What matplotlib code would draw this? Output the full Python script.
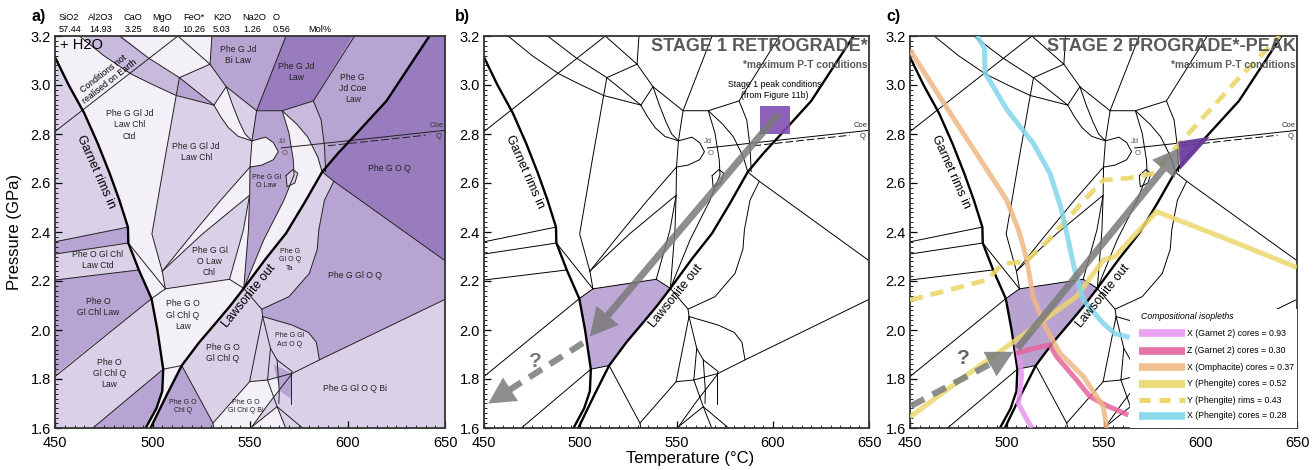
import numpy as np
import matplotlib
matplotlib.use("Agg")
import matplotlib.pyplot as plt
from matplotlib.patches import Polygon, Rectangle, FancyArrowPatch
from matplotlib.ticker import MultipleLocator

plt.rcParams['font.family'] = ['Liberation Sans', 'DejaVu Sans']

# ---------------- axis data ----------------
T_LIM = [450, 650]
P_LIM = [1.6, 3.2]
T_TICKS = [450, 500, 550, 600, 650]
P_TICKS = [1.6, 1.8, 2.0, 2.2, 2.4, 2.6, 2.8, 3.0, 3.2]

oxides = ["SiO2", "Al2O3", "CaO", "MgO", "FeO*", "K2O", "Na2O", "O"]
oxide_mol = ["57.44", "14.93", "3.25", "8.40", "10.26", "5.03", "1.26", "0.56"]
oxide_x_px = [59, 88, 123, 152, 183, 213, 242, 273]
value_x_px = [59, 89, 125, 153, 182, 213, 243, 273]

# ---------------- thick reaction lines (T degC, P GPa) ----------------
garnet_rims_in = [(449.6, 3.12), (457, 3.0), (465, 2.885), (472, 2.76), (478, 2.64), (483, 2.53),
                  (487.4, 2.42), (487.6, 2.355), (493, 2.245), (499.5, 2.128), (502.5, 2.0),
                  (505.5, 1.84), (505, 1.75), (502, 1.68), (496.5, 1.6)]
lawsonite_out = [(499, 1.6), (507, 1.73), (515, 1.855), (524, 1.95), (532.6, 2.03), (540, 2.1),
                 (546.8, 2.17), (558, 2.29), (568.5, 2.395), (578, 2.52), (587, 2.645), (595, 2.72),
                 (604.4, 2.80), (620, 2.935), (642, 3.2)]

# ---------------- thin phase boundaries ----------------
geotherm = [(450, 2.81), (513, 3.2)]
bnd_B = [(462.5, 3.2), (475, 3.12), (489, 3.045), (500.5, 3.0), (512.2, 2.957), (531.5, 2.918)]
bnd_C = [(483, 3.2), (498, 3.11), (513.8, 3.03)]
bnd_top1 = [(513, 3.2), (529.5, 3.085)]
bnd_top2 = [(530.5, 3.2), (529.5, 3.085)]
bnd_c1 = [(513.8, 3.03), (529.5, 3.085)]
bnd_c2 = [(513.8, 3.03), (531.5, 2.918)]
bnd_k = [(529.5, 3.085), (537.8, 2.993), (553.4, 2.895)]
lens_left = [(531.5, 2.918), (535, 2.87), (539, 2.825), (544, 2.79), (551, 2.772)]
lens_right = [(537.8, 2.993), (541, 2.92), (544.5, 2.85), (547.5, 2.80), (551, 2.772)]
bnd_lens_top = [(537.8, 2.993), (531.5, 2.918)]
bnd_bilaw = [(568.5, 3.2), (553.4, 2.895)]
bnd_k123 = [(553.4, 2.895), (566.5, 2.895), (582.5, 2.935), (603.6, 3.2)]
bnd_V = [(553.4, 2.895), (551, 2.772), (550, 2.665), (549.8, 2.55), (549.2, 2.408), (546.8, 2.17)]
jd_o_lens = [(551, 2.772), (558, 2.787), (562, 2.765), (564.5, 2.728), (562, 2.695), (556, 2.673), (550, 2.665)]
bnd_D = [(513.8, 3.03), (506.6, 2.71), (499.7, 2.392), (505, 2.24)]
bnd_s1 = [(505, 2.24), (520.5, 2.392), (535, 2.53), (550, 2.665)]
bnd_s2 = [(505, 2.24), (525.6, 2.392), (549.8, 2.55)]
bnd_e = [(549.8, 2.55), (546.6, 2.408), (539.5, 2.207)]
bnd_g7 = [(487.6, 2.355), (506.6, 2.168)]
bnd_g9 = [(499.5, 2.128), (506.6, 2.168)]
bnd_E = [(505, 2.24), (506.6, 2.168), (539.5, 2.207), (546.8, 2.17)]
bnd_L1 = [(450, 2.36), (487.4, 2.42)]
bnd_L2 = [(450, 2.31), (487.6, 2.355)]
bnd_L3 = [(450, 2.204), (493, 2.245)]
bnd_L4 = [(450, 1.81), (499.5, 2.128)]
bnd_L5 = [(469.4, 1.6), (505.5, 1.84), (515, 1.855), (531, 1.62), (531.5, 1.6)]
bnd_a = [(566.5, 2.895), (570, 2.803), (572.2, 2.694), (572.6, 2.633), (567.4, 2.53), (557, 2.367), (546.8, 2.17)]
bnd_bump = [(568.5, 2.63), (572, 2.655), (574.5, 2.64), (573, 2.60), (569, 2.585), (568.5, 2.63)]
bnd_b = [(566.5, 2.895), (574, 2.84), (579.5, 2.789), (584.7, 2.707), (587, 2.645)]
bnd_c = [(582.5, 2.935), (586.5, 2.857), (588.2, 2.748), (588.8, 2.646)]
bnd_r = [(587, 2.645), (593, 2.607), (650, 2.283)]
bnd_Q1 = [(593, 2.607), (588.2, 2.53), (585.3, 2.41), (584.5, 2.33), (580.4, 2.231), (570, 2.136), (556, 2.085)]
bnd_j1 = [(546.8, 2.17), (556, 2.085), (556.5, 2.055)]
bnd_act = [(556.5, 2.055), (571.7, 2.02), (580, 1.99), (584, 1.95), (585.6, 1.878)]
bnd_BL = [(650, 2.125), (585.6, 1.878), (571.7, 1.823), (559.6, 1.70), (551, 1.605), (550.5, 1.6)]
bnd_j2 = [(556.5, 2.055), (549.8, 1.789), (531, 1.62)]
bnd_j3 = [(556.5, 2.055), (560.5, 1.925), (559, 1.796)]
bnd_j23 = [(549.8, 1.789), (559, 1.796), (571.7, 1.823)]
bnd_x1 = [(551, 1.605), (563.9, 1.687), (577, 1.6)]
bnd_x2 = [(559, 1.796), (563.9, 1.687), (568.3, 1.6)]
bnd_x3 = [(560.5, 1.925), (563.9, 1.878), (571.7, 1.83)]
bnd_x4 = [(563.9, 1.878), (565, 1.75), (564.8, 1.70)]
bnd_x5 = [(570.9, 1.83), (570.9, 1.70)]
coe_q = [(566, 2.743), (650, 2.815)]
coe_q_dash = [(590, 2.752), (640, 2.795)]

thin_lines = [geotherm, bnd_B, bnd_C, bnd_top1, bnd_top2, bnd_c1, bnd_c2, bnd_k, lens_left,
              lens_right, bnd_lens_top, bnd_bilaw, bnd_k123, bnd_V, jd_o_lens, bnd_D, bnd_s1,
              bnd_s2, bnd_e, bnd_g7, bnd_g9, bnd_E, bnd_L1, bnd_L2, bnd_L3, bnd_L4, bnd_L5,
              bnd_a, bnd_bump, bnd_b, bnd_c, bnd_r, bnd_Q1, bnd_j1, bnd_act, bnd_BL, bnd_j2,
              bnd_j3, bnd_j23, bnd_x1, bnd_x2, bnd_x3, bnd_x4, bnd_x5, coe_q]

# ---------------- panel a field fills ----------------
C0, C1, C2, C3, C4 = '#f3f0f7', '#dad0e8', '#c8badd', '#b7a4d2', '#987cbe'
fields_a = [
    (C1, [(449, 2.36), (487.4, 2.42), (483, 2.53), (478, 2.64), (472, 2.76), (465, 2.885), (457, 3.0), (449.6, 3.12), (449, 3.12)]),
    (C3, [(449, 2.31), (487.6, 2.355), (487.4, 2.42), (449, 2.36)]),
    (C1, [(449, 2.204), (493, 2.245), (487.6, 2.355), (449, 2.31)]),
    (C3, [(449, 1.81), (499.5, 2.128), (493, 2.245), (449, 2.204)]),
    (C1, [(449, 1.6), (469.4, 1.6), (505.5, 1.84), (502.5, 2.0), (499.5, 2.128), (449, 1.81)]),
    (C3, [(469.4, 1.6), (505.5, 1.84), (505, 1.75), (502, 1.68), (496.5, 1.6)]),
    (C0, [(496.5, 1.6), (499, 1.6), (507, 1.73), (515, 1.855), (505.5, 1.84), (505, 1.75), (502, 1.68)]),
    (C0, [(499.5, 2.128), (506.6, 2.168), (539.5, 2.207), (546.8, 2.17), (540, 2.1), (532.6, 2.03), (524, 1.95), (515, 1.855), (505.5, 1.84), (502.5, 2.0)]),
    (C0, [(487.6, 2.355), (493, 2.245), (499.5, 2.128), (506.6, 2.168)]),
    (C0, [(449, 3.12), (449, 3.21), (462.5, 3.21), (475, 3.12), (489, 3.045), (500.5, 3.0), (512.2, 2.957), (499.7, 2.392), (505, 2.24), (506.6, 2.168), (487.6, 2.355), (487.4, 2.42), (483, 2.53), (478, 2.64), (472, 2.76), (465, 2.885), (457, 3.0), (449.6, 3.12)]),
    (C2, [(462.5, 3.21), (483, 3.21), (498, 3.11), (513.8, 3.03), (512.2, 2.957), (500.5, 3.0), (489, 3.045), (475, 3.12)]),
    (C3, [(513.8, 3.03), (531.5, 2.918), (512.2, 2.957)]),
    (C0, [(483, 3.21), (513, 3.21), (529.5, 3.085), (513.8, 3.03), (498, 3.11)]),
    (C0, [(513, 3.21), (530.5, 3.21), (529.5, 3.085)]),
    (C1, [(513.8, 3.03), (529.5, 3.085), (537.8, 2.993), (531.5, 2.918)]),
    (C0, lens_left + lens_right[::-1]),
    (C1, [(537.8, 2.993), (553.4, 2.895), (551, 2.772), (547.5, 2.80), (544.5, 2.85), (541, 2.92)]),
    (C3, [(530.5, 3.21), (568.5, 3.21), (553.4, 2.895), (537.8, 2.993), (529.5, 3.085)]),
    (C4, [(568.5, 3.21), (603.6, 3.21), (582.5, 2.935), (566.5, 2.895), (553.4, 2.895)]),
    (C1, [(512.2, 2.957), (531.5, 2.918)] + lens_left[1:] + [(550, 2.665), (535, 2.53), (520.5, 2.392), (505, 2.24), (499.7, 2.392)]),
    (C0, [(505, 2.24), (520.5, 2.392), (535, 2.53), (550, 2.665), (549.8, 2.55), (525.6, 2.392)]),
    (C1, [(505, 2.24), (525.6, 2.392), (549.8, 2.55), (546.6, 2.408), (539.5, 2.207), (506.6, 2.168)]),
    (C0, [(549.8, 2.55), (546.6, 2.408), (539.5, 2.207), (546.8, 2.17), (549.2, 2.408)]),
    (C3, [(553.4, 2.895), (566.5, 2.895), (570, 2.803), (572.2, 2.694), (572.6, 2.633), (567.4, 2.53), (557, 2.367), (546.8, 2.17), (549.2, 2.408), (549.8, 2.55), (550, 2.665), (551, 2.772)]),
    (C0, jd_o_lens),
    (C0, [(566.5, 2.895), (574, 2.84), (579.5, 2.789), (584.7, 2.707), (587, 2.645), (578, 2.52), (568.5, 2.395), (558, 2.29), (546.8, 2.17), (557, 2.367), (567.4, 2.53), (572.6, 2.633), (572.2, 2.694), (570, 2.803)]),
    (C1, bnd_bump),
    (C2, [(566.5, 2.895), (582.5, 2.935), (586.5, 2.857), (588.2, 2.748), (588.8, 2.646), (587, 2.645), (584.7, 2.707), (579.5, 2.789), (574, 2.84)]),
    (C3, [(582.5, 2.935), (603.6, 3.21), (643, 3.21), (620, 2.935), (604.4, 2.80), (595, 2.72), (587, 2.645), (588.8, 2.646), (588.2, 2.748), (586.5, 2.857)]),
    (C4, [(587, 2.645), (595, 2.72), (604.4, 2.80), (620, 2.935), (642, 3.2), (642.8, 3.21), (651, 3.21), (651, 2.283), (650, 2.283), (593, 2.607)]),
    (C1, [(546.8, 2.17), (558, 2.29), (568.5, 2.395), (578, 2.52), (587, 2.645), (593, 2.607), (588.2, 2.53), (585.3, 2.41), (584.5, 2.33), (580.4, 2.231), (570, 2.136), (556, 2.085)]),
    (C3, [(593, 2.607), (650, 2.283), (651, 2.283), (651, 2.125), (650, 2.125), (585.6, 1.878), (584, 1.95), (580, 1.99), (571.7, 2.02), (556.5, 2.055), (556, 2.085), (570, 2.136), (580.4, 2.231), (584.5, 2.33), (585.3, 2.41), (588.2, 2.53)]),
    (C1, [(556.5, 2.055), (571.7, 2.02), (580, 1.99), (584, 1.95), (585.6, 1.878), (571.7, 1.823), (559, 1.796)]),
    (C1, [(515, 1.855), (524, 1.95), (532.6, 2.03), (540, 2.1), (546.8, 2.17), (556, 2.085), (556.5, 2.055), (549.8, 1.789), (531, 1.62)]),
    (C3, [(515, 1.855), (531, 1.62), (531.5, 1.59), (499, 1.59), (507, 1.73)]),
    (C0, [(549.8, 1.789), (559, 1.796), (571.7, 1.823), (559.6, 1.70), (551, 1.605), (550.5, 1.59), (531.5, 1.59), (531, 1.62)]),
    (C1, [(651, 2.125), (585.6, 1.878), (571.7, 1.823), (559.6, 1.70), (551, 1.605), (550.5, 1.59), (651, 1.59)]),
    (C3, [(562, 1.86), (571.7, 1.823), (570.9, 1.72), (565.5, 1.75)]),
    (C0, [(551, 1.605), (563.9, 1.687), (568.3, 1.59), (550.5, 1.59)]),
]

field_labels = [
    ("Phe G Jd\nBi Law", 543.8, 3.122, 6.2), ("Phe G Jd\nLaw", 573.7, 3.054, 6.2),
    ("Phe G\nJd Coe\nLaw", 602.7, 2.986, 6.2), ("Phe G Gl Jd\nLaw Chl\nCtd", 488.2, 2.837, 6.2),
    ("Phe G Gl Jd\nLaw Chl", 522.4, 2.728, 6.2), ("Phe G Gl\nO Law", 558.3, 2.606, 5.0),
    ("Phe G O Q", 621.5, 2.66, 6.2), ("Phe O Gl Chl\nLaw Ctd", 472.0, 2.286, 6.2),
    ("Phe G Gl\nO Law\nChl", 529.2, 2.279, 6.2), ("Phe G\nGl O Q\nTa", 570.3, 2.286, 5.0),
    ("Phe G Gl O Q", 603.6, 2.224, 6.2), ("Phe O\nGl Chl Law", 472.0, 2.095, 6.2),
    ("Phe G O\nGl Chl Q\nLaw", 515.6, 2.061, 6.2), ("Phe G Gl\nAct O Q", 570.3, 1.959, 5.0),
    ("Phe G O\nGl Chl Q", 536.1, 1.905, 6.2), ("Phe O\nGl Chl Q\nLaw", 478.0, 1.823, 6.2),
    ("Phe G Gl O Q Bi", 603.6, 1.762, 6.2), ("Phe G O\nChl Q", 515.6, 1.687, 5.0),
    ("Phe G O\nGl Chl Q Bi", 548.0, 1.687, 5.0),
]

# ---------------- panel b/c overlays ----------------
stage_field = [(499.5, 2.128), (506.6, 2.168), (539.5, 2.207), (546.8, 2.17), (540, 2.1), (532.6, 2.03),
               (524, 1.95), (515, 1.855), (505.5, 1.84), (502.5, 2.0)]
stage1_peak_T = [593.5, 609.0]
stage1_peak_P = [2.80, 2.915]
stage2_peak = [(588.7, 2.769), (605, 2.789), (589.5, 2.653)]
arrow_b_solid = [(603.0, 2.882), (504.9, 1.973)]
arrow_b_dash = [(501.4, 1.947), (452.2, 1.70)]
arrow_c_dash = [(450.5, 1.69), (503.4, 1.911)]
arrow_c_solid = [(505.5, 1.925), (590.0, 2.745)]

# ---------------- isopleths (panel c) ----------------
iso_grt_x = [(505, 1.95), (506, 1.90), (507.7, 1.82), (507, 1.76), (506, 1.70), (510, 1.64), (513, 1.6)]
iso_grt_z = [(505.1, 1.905), (514, 1.925), (522.3, 1.939), (525.8, 1.891), (536.1, 1.796), (543, 1.728), (552, 1.69), (562.8, 1.653)]
iso_omp_x = [(450, 3.143), (472, 2.87), (500, 2.53), (506, 2.41), (510, 2.30), (513.7, 2.136), (519, 2.027), (527.5, 1.905), (539.6, 1.81), (549.9, 1.687), (551.7, 1.6)]
iso_phe_y_core = [(450, 1.645), (480, 1.82), (505, 1.96), (536, 2.136), (550, 2.286), (556, 2.30), (564, 2.37), (577.5, 2.483), (615, 2.367), (650, 2.255)]
iso_phe_y_rim = [(450, 2.122), (489.6, 2.204), (498, 2.27), (510, 2.28), (522, 2.37), (540, 2.53), (550, 2.612), (563, 2.62), (576, 2.64), (591, 2.776), (619, 3.02), (641, 3.2)]
iso_phe_x = [(484.5, 3.2), (488.5, 3.15), (488.8, 3.05), (500, 2.90), (513.7, 2.762), (522.3, 2.64), (528, 2.50), (531, 2.395), (535, 2.25), (539.6, 2.122), (549.9, 2.027), (556, 1.985), (563.5, 1.97)]

iso_labels = ["X (Garnet 2) cores = 0.93", "Z (Garnet 2) cores = 0.30", "X (Omphacite) cores = 0.37",
              "Y (Phengite) cores = 0.52", "Y (Phengite) rims = 0.43", "X (Phengite) cores = 0.28"]
iso_colors = ['#e696ef', '#e4649c', '#efb886', '#ecd76c', '#ecd76c', '#82d5ea']
iso_series = [iso_grt_x, iso_grt_z, iso_omp_x, iso_phe_y_core, iso_phe_y_rim, iso_phe_x]
iso_dashed = [False, False, False, False, True, False]
legend_rows_P = [1.9865, 1.9155, 1.848, 1.78, 1.714, 1.650]

# ---------------- figure ----------------
W, H = 1314, 470
fig = plt.figure(figsize=(W / 100, H / 100), dpi=100)
axes_px = [(55, 390), (484, 385), (910, 387)]
axs = [fig.add_axes([x / W, 42 / H, w / W, 392 / H]) for x, w in axes_px]


def xy(pts):
    a = np.array(pts, dtype=float)
    return a[:, 0], a[:, 1]


def setup(ax):
    ax.set_xlim(T_LIM)
    ax.set_ylim(P_LIM)
    ax.set_xticks(T_TICKS)
    ax.set_yticks(P_TICKS)
    ax.set_yticklabels([f"{p:.1f}" for p in P_TICKS])
    ax.xaxis.set_minor_locator(MultipleLocator(5))
    ax.yaxis.set_minor_locator(MultipleLocator(0.02))
    ax.tick_params(which='both', direction='in', top=False, right=False, labelsize=10.5)
    ax.tick_params(axis='y', which='major', pad=3)
    ax.tick_params(axis='x', which='major', pad=6)
    ax.tick_params(which='major', length=5, width=0.9)
    ax.tick_params(which='minor', length=2.5, width=0.6)
    for s in ax.spines.values():
        s.set_linewidth(1.3)
        s.set_color('#333333')


def draw_network(ax, color='black'):
    for ln in thin_lines:
        x, y = xy(ln)
        ax.plot(x, y, color=color, lw=0.7, zorder=2, solid_capstyle='round')
    x, y = xy(coe_q_dash)
    ax.plot(x, y, color=color, lw=0.7, ls=(0, (8, 3)), zorder=2)
    for ln in (garnet_rims_in, lawsonite_out):
        x, y = xy(ln)
        ax.plot(x, y, color='black', lw=1.7, zorder=2.5)
    ax.text(471.0, 2.645, "Garnet rims in", rotation=-66, ha='center', va='center', fontsize=9,
            rotation_mode='anchor', zorder=4)
    ax.text(549.5, 2.14, "Lawsonite out", rotation=51, ha='center', va='center', fontsize=9,
            rotation_mode='anchor', zorder=4)
    ax.text(566.5, 2.768, "Jd", fontsize=5.5, color='#555555', ha='center', va='center', zorder=4)
    ax.text(567.5, 2.72, "O", fontsize=5.5, color='#555555', ha='center', va='center', zorder=4)
    ax.text(645.5, 2.835, "Coe", fontsize=5.5, color='#333333', ha='center', va='center', zorder=4)
    ax.text(646.5, 2.79, "Q", fontsize=5.5, color='#333333', ha='center', va='center', zorder=4)


def head_base(ax, start, tip, length_px):
    d = ax.transData
    s = np.array(d.transform(start))
    t = np.array(d.transform(tip))
    v = (t - s) / np.hypot(*(t - s))
    return tuple(d.inverted().transform(t - v * length_px))


def solid_arrow(ax, start, tip):
    ar = FancyArrowPatch(start, tip, arrowstyle='simple,head_length=2.0,head_width=2.1,tail_width=0.5',
                         mutation_scale=10, color='#7a7a7a', alpha=0.85, lw=0, zorder=6,
                         shrinkA=0, shrinkB=0)
    ax.add_patch(ar)


def dashed_arrow(ax, start, tip):
    base = head_base(ax, start, tip, 26)
    ax.plot([start[0], base[0]], [start[1], base[1]], color='#7a7a7a', alpha=0.85, lw=4.5,
            dashes=(2.4, 1.5), solid_capstyle='butt', zorder=6)
    ar = FancyArrowPatch(head_base(ax, start, tip, 27), tip,
                         arrowstyle='simple,head_length=1.9,head_width=2.0,tail_width=0.3',
                         mutation_scale=10, color='#7a7a7a', alpha=0.85, lw=0, zorder=6,
                         shrinkA=0, shrinkB=0)
    ax.add_patch(ar)


for ax in axs:
    setup(ax)

# ---------- panel a ----------
ax = axs[0]
ax.set_facecolor(C1)
for col, pts in fields_a:
    ax.add_patch(Polygon(pts, closed=True, facecolor=col, edgecolor='none', zorder=1))
draw_network(ax, color='#222222')
for txt, t, p, fs in field_labels:
    ax.text(t, p, txt, ha='center', va='center', fontsize=fs, linespacing=1.3, color='#222222', zorder=4)
ax.text(452.5, 3.165, "+ H2O", fontsize=10.5, ha='left', va='center', zorder=4)
ax.text(476.5, 3.03, "Conditions not\nrealised on Earth", rotation=38, ha='center', va='center',
        fontsize=6.3, linespacing=1.25, rotation_mode='anchor', zorder=4)
for name, xp in zip(oxides, oxide_x_px):
    fig.text(xp / W, 1 - 17 / H, name, fontsize=6.6, ha='left', va='center')
for val, xp in zip(oxide_mol, value_x_px):
    fig.text(xp / W, 1 - 30 / H, val, fontsize=6.6, ha='left', va='center')
fig.text(308 / W, 1 - 30 / H, "Mol%", fontsize=6.6, ha='left', va='center')
fig.text(15 / W, 1 - 232 / H, "Pressure (GPa)", rotation=90, fontsize=12, ha='center', va='center')

# ---------- panel b ----------
ax = axs[1]
ax.add_patch(Polygon(stage_field, closed=True, facecolor='#bea8d5', edgecolor='none', zorder=1))
draw_network(ax)
ax.add_patch(Rectangle((stage1_peak_T[0], stage1_peak_P[0]), stage1_peak_T[1] - stage1_peak_T[0],
                       stage1_peak_P[1] - stage1_peak_P[0], facecolor='#8150b2', alpha=0.9,
                       edgecolor='none', zorder=3))
ax.text(601.0, 2.98, "Stage 1 peak conditions\n(from Figure 11b)", ha='center', va='center',
        fontsize=6.3, linespacing=1.25, zorder=7)
solid_arrow(ax, *arrow_b_solid)
dashed_arrow(ax, *arrow_b_dash)
ax.text(476.5, 1.87, "?", fontsize=15, fontweight='bold', color='#777777', ha='center', va='center', zorder=7)
ax.text(0.997, 0.995, "STAGE 1 RETROGRADE*", transform=ax.transAxes, ha='right', va='top',
        fontsize=13, fontweight='bold', color='#5a5a5a', zorder=8)
ax.text(0.997, 0.925, "*maximum P-T conditions", transform=ax.transAxes, ha='right', va='center',
        fontsize=7.3, fontweight='bold', color='#5a5a5a', zorder=8)
fig.text(690 / W, 1 - 459 / H, "Temperature (°C)", fontsize=12, ha='center', va='center')

# ---------- panel c ----------
ax = axs[2]
ax.add_patch(Polygon(stage_field, closed=True, facecolor='#b8a2cf', edgecolor='none', zorder=1))
draw_network(ax)
for pts, col, dsh in zip(iso_series, iso_colors, iso_dashed):
    x, y = xy(pts)
    if dsh:
        ax.plot(x, y, color=col, lw=3.4, dashes=(2.8, 1.7), alpha=0.9, zorder=3, solid_capstyle='butt')
    else:
        ax.plot(x, y, color=col, lw=3.6, alpha=0.85, zorder=3, solid_capstyle='butt')
ax.add_patch(Polygon(stage2_peak, closed=True, facecolor='#6b3d9e', edgecolor='none', alpha=0.95, zorder=3.5))
dashed_arrow(ax, *arrow_c_dash)
solid_arrow(ax, *arrow_c_solid)
ax.text(477.5, 1.885, "?", fontsize=15, fontweight='bold', color='#666666', ha='center', va='center', zorder=7)
ax.add_patch(Rectangle((563.5, 1.6), 86.5, 0.485, facecolor='white', edgecolor='none', zorder=6.5))
ax.text(569.2, 2.057, "Compositional isopleths", fontsize=6.3, style='italic', ha='left', va='center', zorder=7)
for lab, col, dsh, pr in zip(iso_labels, iso_colors, iso_dashed, legend_rows_P):
    if dsh:
        ax.plot([568.3, 592.1], [pr, pr], color=col, lw=3.6, dashes=(2.2, 1.8), zorder=7, solid_capstyle='butt')
    else:
        ax.plot([568.3, 592.1], [pr, pr], color=col, lw=5.5, alpha=0.9, zorder=7, solid_capstyle='butt')
    ax.text(593.2, pr, lab, fontsize=6.3, ha='left', va='center', zorder=7)
ax.text(0.997, 0.995, "STAGE 2 PROGRADE*-PEAK", transform=ax.transAxes, ha='right', va='top',
        fontsize=13, fontweight='bold', color='#5a5a5a', zorder=8)
ax.text(0.997, 0.925, "*maximum P-T conditions", transform=ax.transAxes, ha='right', va='center',
        fontsize=7.3, fontweight='bold', color='#5a5a5a', zorder=8)

for lab, xp in zip(["a)", "b)", "c)"], [32, 455, 886]):
    fig.text(xp / W, 1 - 16 / H, lab, fontsize=11.5, fontweight='bold', ha='left', va='center')

fig.savefig("out.png", dpi=100)
